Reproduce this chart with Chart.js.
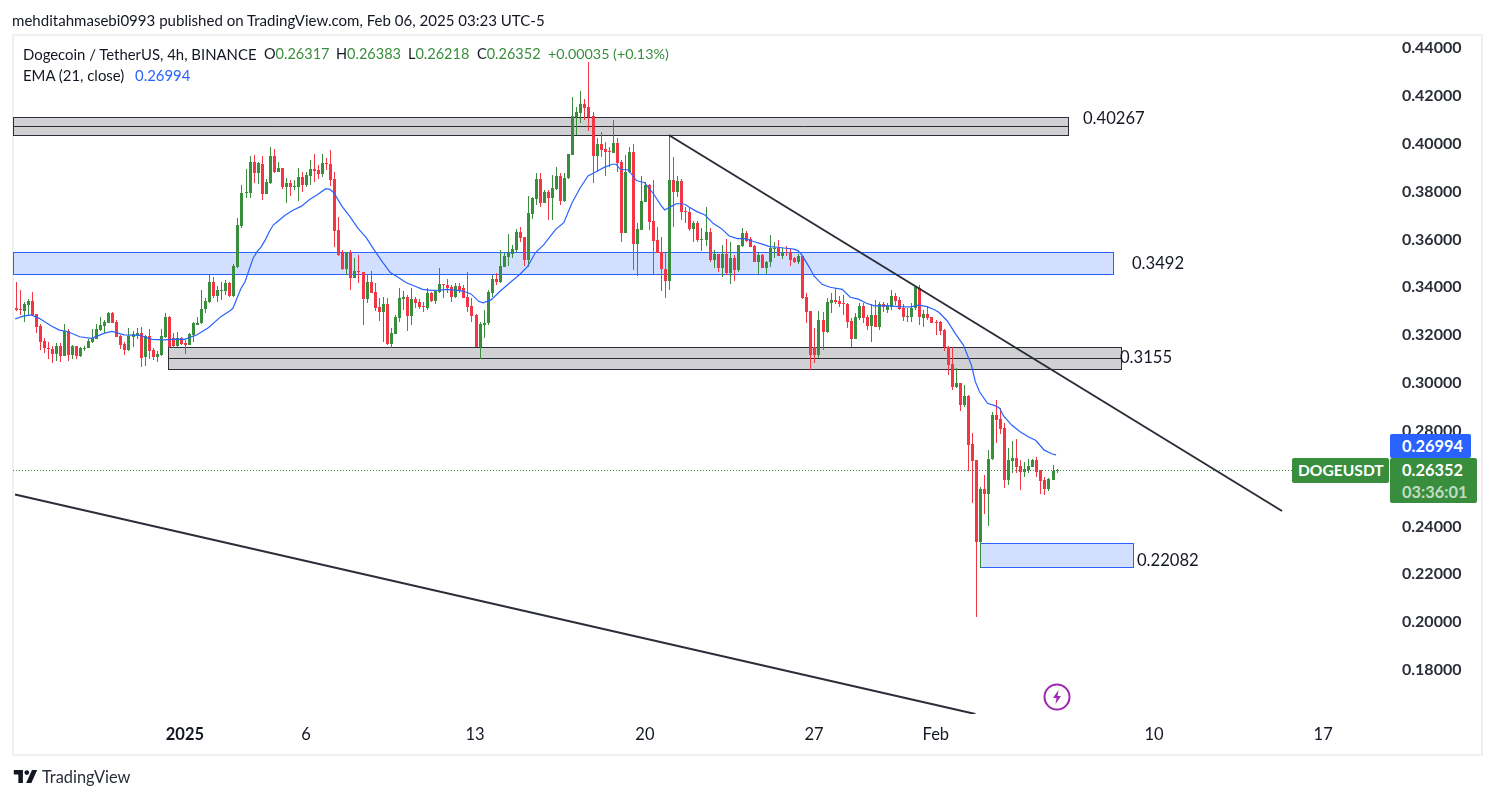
<!DOCTYPE html>
<html>
<head>
<meta charset="utf-8">
<title>DOGEUSDT</title>
<script src="https://cdn.jsdelivr.net/npm/chart.js@4/dist/chart.umd.min.js"></script>
<style>
    html, body { margin: 0; padding: 0; background: #fff; }
    body { width: 1494px; height: 798px; position: relative; overflow: hidden; font-family: Lato, sans-serif; color: #131722; }
    #frame { position: absolute; left: 12px; top: 34px; width: 1467px; height: 718px; border: 2px solid #f0f0f3; }
    canvas { position: absolute; left: 0; top: 0; }
    .txt { position: absolute; white-space: pre; line-height: 20px; font-size: 14.9px; }
    .g { color: #388e3c; }
    .note { position: absolute; white-space: pre; font-size: 16.6px; line-height: 22px; color: #131722; }
    .box { position: absolute; color: #fff; border-radius: 2px; font-weight: 700; font-size: 16.4px; box-sizing: border-box; padding-left: 12px; }
</style>
</head>
<body>
<div id="frame"></div>
<canvas id="dogeChart" width="1494" height="798"></canvas>

<div class="txt" style="left:12px;top:10px;font-size:15.05px">mehditahmasebi0993 published on TradingView.com, Feb 06, 2025 03:23 UTC-5</div>
<div class="txt" style="left:23px;top:44px">Dogecoin / TetherUS, 4h, BINANCE</div>
<div class="txt" style="left:264px;top:44px;font-size:14.5px">O<span class="g">0.26317</span></div>
<div class="txt" style="left:336px;top:44px;font-size:14.5px">H<span class="g">0.26383</span></div>
<div class="txt" style="left:408px;top:44px;font-size:14.5px">L<span class="g">0.26218</span></div>
<div class="txt" style="left:477px;top:44px;font-size:14.5px">C<span class="g">0.26352</span></div>
<div class="txt g" style="left:548px;top:44px;font-size:14.3px">+0.00035 (+0.13%)</div>
<div class="txt" style="left:23px;top:65px">EMA (21, close)</div>
<div class="txt" style="left:135px;top:65px;color:#2962ff">0.26994</div>

<div class="note" style="left:1083px;top:107px">0.40267</div>
<div class="note" style="left:1132px;top:252px">0.3492</div>
<div class="note" style="left:1120px;top:346px">0.3155</div>
<div class="note" style="left:1137px;top:549px">0.22082</div>

<div class="box" style="left:1390px;top:434px;width:81px;height:24px;line-height:24px;background:#2962ff">0.26994</div>
<div class="box" style="left:1292px;top:458px;width:97px;height:25px;line-height:25px;background:#388e3c;font-size:15.6px;padding-left:6px">DOGEUSDT</div>
<div class="box" style="left:1390px;top:458px;width:87px;height:45px;background:#388e3c;line-height:22px;padding-top:1px">0.26352<br><span style="color:rgba(255,255,255,.7)">03:36:01</span></div>

<svg style="position:absolute;left:1043px;top:683px" width="28" height="28" viewBox="0 0 28 28">
    <circle cx="14" cy="14" r="12.5" fill="#fff" stroke="#9c27b0" stroke-width="2"/>
    <path d="M15.5 7 L10 15 H13.5 L12.5 21 L18 13 H14.5 Z" fill="#9c27b0"/>
</svg>

<svg style="position:absolute;left:13px;top:770px" width="25" height="13" viewBox="0 0 36 20">
    <path d="M0 0 H14 V20 H7 V7 H0 Z M28 0 H36 L27 20 H19 Z" fill="#131722"/>
    <circle cx="20" cy="4" r="3.6" fill="#131722"/>
</svg>
<div class="txt" style="left:42px;top:767px;font-size:16.4px;color:#2a2e39">TradingView</div>

<script>
// du lieu nen 4h, doc tu hinh
const opens = [
    0.3313,0.3309,0.3300,0.3325,0.3342,0.3286,0.3238,0.3175,0.3148,0.3141,
    0.3121,0.3154,0.3112,0.3217,0.3116,0.3153,0.3112,0.3144,0.3147,0.3171,
    0.3185,0.3221,0.3238,0.3252,0.3293,0.3254,0.3196,0.3162,0.3137,0.3190,
    0.3200,0.3207,0.3107,0.3196,0.3137,0.3108,0.3116,0.3192,0.3274,0.3189,
    0.3154,0.3187,0.3167,0.3160,0.3200,0.3243,0.3249,0.3310,0.3339,0.3421,
    0.3364,0.3385,0.3385,0.3419,0.3363,0.3483,0.3656,0.3795,0.3795,0.3923,
    0.3879,0.3915,0.3790,0.3834,0.3948,0.3881,0.3898,0.3817,0.3836,0.3820,
    0.3820,0.3861,0.3827,0.3865,0.3893,0.3890,0.3873,0.3919,0.3915,0.3852,
    0.3639,0.3542,0.3476,0.3546,0.3440,0.3468,0.3464,0.3351,0.3422,0.3381,
    0.3319,0.3298,0.3330,0.3164,0.3206,0.3273,0.3351,0.3359,0.3280,0.3351,
    0.3340,0.3323,0.3313,0.3377,0.3342,0.3381,0.3413,0.3409,0.3399,0.3360,
    0.3405,0.3395,0.3360,0.3322,0.3284,0.3149,0.3244,0.3249,0.3377,0.3434,
    0.3423,0.3486,0.3528,0.3539,0.3556,0.3631,0.3609,0.3514,0.3708,0.3769,
    0.3853,0.3754,0.3800,0.3775,0.3811,0.3865,0.3761,0.3855,0.3953,0.4113,
    0.4130,0.4166,0.4154,0.4116,0.3949,0.3999,0.3978,0.3971,0.3961,0.4003,
    0.3924,0.3628,0.3881,0.3964,0.3582,0.3641,0.3758,0.3827,0.3676,0.3598,
    0.3548,0.3477,0.3424,0.3849,0.3796,0.3844,0.3717,0.3716,0.3644,0.3667,
    0.3598,0.3598,0.3632,0.3514,0.3539,0.3481,0.3539,0.3461,0.3522,0.3472,
    0.3574,0.3626,0.3600,0.3573,0.3507,0.3535,0.3482,0.3504,0.3561,0.3566,
    0.3531,0.3549,0.3549,0.3521,0.3506,0.3532,0.3358,0.3301,0.3152,0.3117,
    0.3263,0.3213,0.3334,0.3347,0.3343,0.3334,0.3330,0.3258,0.3185,0.3272,
    0.3322,0.3274,0.3240,0.3283,0.3235,0.3330,0.3305,0.3319,0.3364,0.3347,
    0.3315,0.3277,0.3276,0.3312,0.3397,0.3272,0.3288,0.3277,0.3256,0.3255,
    0.3221,0.3152,0.3078,0.2985,0.2999,0.2908,0.2946,0.2744,0.2678,0.2337,
    0.2557,0.2537,0.2680,0.2866,0.2849,0.2811,0.2595,0.2675,0.2685,0.2653,
    0.2628,0.2634,0.2650,0.2678,0.2634,0.2595,0.2557,0.2595,0.26317
];
const closes = [
    0.3305,0.3305,0.3330,0.3342,0.3284,0.3233,0.3172,0.3144,0.3143,0.3121,
    0.3153,0.3112,0.3218,0.3116,0.3153,0.3112,0.3147,0.3148,0.3175,0.3189,
    0.3225,0.3242,0.3256,0.3293,0.3250,0.3192,0.3158,0.3137,0.3196,0.3204,
    0.3207,0.3105,0.3197,0.3135,0.3107,0.3121,0.3196,0.3274,0.3151,0.3154,
    0.3186,0.3164,0.3158,0.3203,0.3249,0.3249,0.3311,0.3342,0.3420,0.3363,
    0.3388,0.3388,0.3419,0.3363,0.3490,0.3660,0.3794,0.3798,0.3923,0.3879,
    0.3918,0.3790,0.3841,0.3948,0.3881,0.3898,0.3817,0.3834,0.3819,0.3823,
    0.3861,0.3827,0.3869,0.3894,0.3887,0.3873,0.3919,0.3915,0.3848,0.3635,
    0.3536,0.3476,0.3546,0.3440,0.3468,0.3462,0.3351,0.3422,0.3377,0.3315,
    0.3298,0.3330,0.3163,0.3207,0.3276,0.3356,0.3359,0.3280,0.3351,0.3334,
    0.3317,0.3317,0.3377,0.3342,0.3384,0.3413,0.3409,0.3397,0.3360,0.3405,
    0.3388,0.3356,0.3319,0.3281,0.3149,0.3246,0.3252,0.3380,0.3434,0.3420,
    0.3489,0.3531,0.3545,0.3559,0.3631,0.3607,0.3514,0.3709,0.3773,0.3853,
    0.3754,0.3798,0.3775,0.3815,0.3865,0.3762,0.3857,0.3957,0.4116,0.4133,
    0.4166,0.4149,0.4113,0.3949,0.3999,0.3974,0.3965,0.3967,0.4003,0.3921,
    0.3628,0.3883,0.3964,0.3582,0.3644,0.3761,0.3827,0.3673,0.3595,0.3545,
    0.3475,0.3424,0.3849,0.3796,0.3844,0.3716,0.3715,0.3644,0.3667,0.3598,
    0.3602,0.3632,0.3514,0.3539,0.3481,0.3539,0.3461,0.3522,0.3470,0.3577,
    0.3626,0.3595,0.3570,0.3507,0.3535,0.3482,0.3507,0.3563,0.3564,0.3532,
    0.3548,0.3546,0.3514,0.3506,0.3532,0.3357,0.3298,0.3117,0.3117,0.3263,
    0.3213,0.3337,0.3347,0.3337,0.3330,0.3332,0.3255,0.3185,0.3274,0.3323,
    0.3272,0.3240,0.3283,0.3235,0.3330,0.3319,0.3323,0.3364,0.3343,0.3309,
    0.3277,0.3281,0.3315,0.3400,0.3277,0.3288,0.3270,0.3252,0.3252,0.3219,
    0.3149,0.3075,0.2985,0.2999,0.2908,0.2946,0.2741,0.2675,0.2337,0.2557,
    0.2536,0.2682,0.2866,0.2845,0.2808,0.2595,0.2678,0.2688,0.2650,0.2629,
    0.2641,0.2653,0.2678,0.2629,0.2592,0.2557,0.2599,0.2632,0.26352
];
const highs = [
    0.3423,0.3388,0.3339,0.3349,0.3381,0.3288,0.3246,0.3186,0.3172,0.3155,
    0.3165,0.3165,0.3246,0.3224,0.3157,0.3153,0.3151,0.3155,0.3182,0.3224,
    0.3246,0.3277,0.3265,0.3295,0.3298,0.3263,0.3199,0.3172,0.3228,0.3218,
    0.3228,0.3232,0.3200,0.3224,0.3148,0.3135,0.3224,0.3291,0.3279,0.3207,
    0.3213,0.3193,0.3179,0.3207,0.3256,0.3274,0.3388,0.3357,0.3454,0.3444,
    0.3405,0.3423,0.3430,0.3423,0.3497,0.3688,0.3827,0.3893,0.3948,0.3953,
    0.3922,0.3948,0.3851,0.3985,0.3978,0.3923,0.3898,0.3855,0.3848,0.3848,
    0.3898,0.3883,0.3883,0.3932,0.3957,0.3911,0.3957,0.3939,0.3973,0.3881,
    0.3692,0.3556,0.3549,0.3556,0.3521,0.3535,0.3464,0.3451,0.3469,0.3419,
    0.3353,0.3358,0.3353,0.3228,0.3284,0.3395,0.3384,0.3367,0.3395,0.3358,
    0.3349,0.3340,0.3395,0.3381,0.3388,0.3479,0.3413,0.3433,0.3409,0.3419,
    0.3416,0.3409,0.3465,0.3353,0.3287,0.3256,0.3305,0.3388,0.3451,0.3458,
    0.3556,0.3542,0.3623,0.3577,0.3642,0.3651,0.3612,0.3782,0.3779,0.3879,
    0.3876,0.3807,0.3807,0.3869,0.3904,0.3879,0.3876,0.3957,0.4197,0.4155,
    0.4220,0.4186,0.4340,0.4131,0.4023,0.4050,0.4009,0.3988,0.4099,0.4023,
    0.3932,0.3953,0.3985,0.3999,0.3667,0.3865,0.3841,0.3832,0.3849,0.3653,
    0.3609,0.3549,0.4037,0.3946,0.3865,0.3851,0.3737,0.3734,0.3677,0.3678,
    0.3646,0.3734,0.3646,0.3556,0.3539,0.3577,0.3600,0.3591,0.3535,0.3577,
    0.3646,0.3635,0.3609,0.3577,0.3542,0.3539,0.3511,0.3619,0.3587,0.3598,
    0.3563,0.3573,0.3563,0.3528,0.3539,0.3535,0.3375,0.3301,0.3228,0.3302,
    0.3298,0.3354,0.3375,0.3396,0.3364,0.3368,0.3333,0.3270,0.3291,0.3333,
    0.3333,0.3284,0.3329,0.3347,0.3340,0.3340,0.3333,0.3389,0.3375,0.3361,
    0.3329,0.3312,0.3333,0.3405,0.3410,0.3305,0.3322,0.3277,0.3263,0.3258,
    0.3224,0.3155,0.3149,0.3061,0.3001,0.2992,0.2950,0.2790,0.2678,0.2567,
    0.2615,0.2720,0.2880,0.2929,0.2894,0.2831,0.2727,0.2758,0.2765,0.2678,
    0.2671,0.2681,0.2682,0.2692,0.2636,0.2606,0.2601,0.2657,0.26383
];
const lows = [
    0.3302,0.3284,0.3256,0.3284,0.3281,0.3210,0.3137,0.3126,0.3102,0.3084,
    0.3093,0.3089,0.3112,0.3093,0.3098,0.3101,0.3109,0.3133,0.3144,0.3165,
    0.3182,0.3218,0.3207,0.3249,0.3249,0.3190,0.3140,0.3116,0.3133,0.3151,
    0.3182,0.3068,0.3070,0.3098,0.3096,0.3089,0.3112,0.3186,0.3148,0.3148,
    0.3151,0.3157,0.3121,0.3157,0.3172,0.3242,0.3246,0.3293,0.3335,0.3357,
    0.3339,0.3346,0.3367,0.3360,0.3360,0.3479,0.3649,0.3774,0.3771,0.3834,
    0.3831,0.3764,0.3790,0.3831,0.3879,0.3881,0.3810,0.3753,0.3781,0.3806,
    0.3762,0.3799,0.3817,0.3827,0.3841,0.3852,0.3859,0.3890,0.3824,0.3567,
    0.3530,0.3472,0.3451,0.3388,0.3437,0.3419,0.3242,0.3333,0.3374,0.3301,
    0.3260,0.3172,0.3158,0.3145,0.3204,0.3256,0.3305,0.3218,0.3242,0.3312,
    0.3308,0.3298,0.3305,0.3340,0.3330,0.3377,0.3353,0.3374,0.3340,0.3356,
    0.3374,0.3353,0.3298,0.3256,0.3149,0.3099,0.3186,0.3242,0.3360,0.3409,
    0.3416,0.3486,0.3489,0.3521,0.3549,0.3587,0.3489,0.3486,0.3684,0.3744,
    0.3737,0.3751,0.3679,0.3681,0.3807,0.3743,0.3758,0.3851,0.3953,0.4037,
    0.4088,0.4099,0.4051,0.3837,0.3883,0.3943,0.3865,0.3904,0.3960,0.3883,
    0.3591,0.3628,0.3876,0.3470,0.3447,0.3640,0.3758,0.3640,0.3456,0.3542,
    0.3386,0.3355,0.3389,0.3653,0.3779,0.3681,0.3667,0.3633,0.3591,0.3591,
    0.3553,0.3573,0.3507,0.3482,0.3464,0.3444,0.3451,0.3414,0.3428,0.3465,
    0.3570,0.3591,0.3567,0.3504,0.3456,0.3479,0.3456,0.3486,0.3524,0.3531,
    0.3520,0.3532,0.3489,0.3500,0.3497,0.3350,0.3249,0.3052,0.3082,0.3103,
    0.3138,0.3210,0.3294,0.3330,0.3319,0.3284,0.3228,0.3149,0.3183,0.3263,
    0.3249,0.3222,0.3169,0.3233,0.3222,0.3298,0.3294,0.3305,0.3326,0.3305,
    0.3259,0.3256,0.3256,0.3305,0.3242,0.3235,0.3263,0.3249,0.3201,0.3201,
    0.3135,0.3033,0.2971,0.2978,0.2884,0.2901,0.2632,0.2500,0.2021,0.2225,
    0.2452,0.2402,0.2678,0.2748,0.2787,0.2562,0.2574,0.2622,0.2622,0.2553,
    0.2608,0.2622,0.2648,0.2608,0.2536,0.2532,0.2550,0.2595,0.26218
];

// EMA 21 doc theo tung diem tren hinh
const emaIndex = [0,2,4,6,9,11,13,16,19,22,24,27,31,34,37,40,42,45,48,51,53,54,55,56,57,58,59,60,61,62,63,64,65,67,69,71,73,75,77,78,79,81,83,85,87,89,91,93,95,97,99,101,103,105,107,109,111,113,115,116,118,120,123,125,127,129,131,134,136,138,140,142,144,146,148,149,150,152,154,156,158,160,161,163,164,166,167,169,171,173,175,177,179,181,183,185,187,189,191,193,194,195,196,197,198,200,202,205,207,209,211,213,216,219,222,224,226,228,229,231,233,235,237,238,239,241,243,244,245,247,249,251,253,255,257,258];
const emaValues = [0.3267,0.3279,0.3284,0.3270,0.3238,0.3221,0.3215,0.3193,0.3186,0.3207,0.3215,0.3201,0.3199,0.3182,0.3180,0.3183,0.3182,0.3200,0.3232,0.3277,0.3298,0.3312,0.3354,0.3395,0.3423,0.3472,0.3521,0.3549,0.3569,0.3597,0.3632,0.3660,0.3674,0.3702,0.3723,0.3739,0.3767,0.3788,0.3812,0.3809,0.3795,0.3739,0.3695,0.3646,0.3608,0.3556,0.3507,0.3461,0.3441,0.3419,0.3405,0.3391,0.3387,0.3388,0.3391,0.3388,0.3384,0.3372,0.3340,0.3335,0.3347,0.3380,0.3424,0.3452,0.3486,0.3545,0.3577,0.3642,0.3670,0.3751,0.3814,0.3865,0.3883,0.3901,0.3914,0.3914,0.3893,0.3890,0.3846,0.3837,0.3796,0.3744,0.3723,0.3741,0.3750,0.3747,0.3735,0.3716,0.3702,0.3667,0.3646,0.3614,0.3603,0.3603,0.3591,0.3581,0.3570,0.3567,0.3563,0.3559,0.3553,0.3535,0.3507,0.3479,0.3447,0.3412,0.3400,0.3391,0.3358,0.3350,0.3333,0.3322,0.3323,0.3319,0.3318,0.3325,0.3319,0.3305,0.3294,0.3260,0.3207,0.3159,0.3075,0.3005,0.2964,0.2915,0.2904,0.2894,0.2862,0.2824,0.2797,0.2776,0.2759,0.2720,0.2703,0.26994];

// duong xu huong va vung gia
const trendA = { from: 162, to: 314, fromPrice: 0.40363, toPrice: 0.24646 };
const trendB = { from: 0, to: 238, fromPrice: 0.2534, toPrice: 0.1616 };
const zones = [
    { from: -0.5, to: 260.96, top: 0.41128, mid: 0.40731, bottom: 0.40351, fill: '#d1d1d4', line: '#2a2e39' },
    { from: 37.9, to: 274.1, top: 0.31489, mid: 0.31029, bottom: 0.30569, fill: '#d1d1d4', line: '#2a2e39' },
    { from: -0.5, to: 272.1, top: 0.35452, bottom: 0.34532, fill: '#d2dffe', line: '#2962ff' },
    { from: 239.15, to: 277.07, top: 0.23296, bottom: 0.22293, fill: '#d2dffe', line: '#2962ff' }
];
const lastPrice = 0.26352;

const priceTicks = [0.44,0.42,0.40,0.38,0.36,0.34,0.32,0.30,0.28,0.26,0.24,0.22,0.20,0.18];
const dayTickIndex = [42.1,72.1,114,156.1,198,228.2,282.3,324.2];
const dayTickLabels = ['2025','6','13','20','27','Feb','10','17'];

const slots = Array.from({ length: 342 }, (_, i) => String(i));
const candleColors = closes.map((c, i) => c >= opens[i] ? '#388e3c' : '#f23645');

// ve vung gia va duong gia cuoi duoi nen
const zonePlugin = {
    id: 'zonePlugin',
    beforeDatasetsDraw(chart) {
        const { ctx, chartArea, scales: { x, y } } = chart;
        ctx.save();
        ctx.beginPath();
        ctx.rect(chartArea.left, chartArea.top, chartArea.width, chartArea.height);
        ctx.clip();
        ctx.lineWidth = 1;
        zones.forEach(z => {
            const l = Math.round(x.getPixelForValue(z.from)) + 0.5;
            const r = Math.round(x.getPixelForValue(z.to)) + 0.5;
            const t = Math.round(y.getPixelForValue(z.top)) + 0.5;
            const b = Math.round(y.getPixelForValue(z.bottom)) + 0.5;
            ctx.fillStyle = z.fill;
            ctx.fillRect(l, t, r - l, b - t);
            ctx.strokeStyle = z.line;
            ctx.strokeRect(l, t, r - l, b - t);
            if (z.mid) {
                const m = Math.round(y.getPixelForValue(z.mid)) + 0.5;
                ctx.beginPath();
                ctx.moveTo(l, m);
                ctx.lineTo(r, m);
                ctx.stroke();
            }
        });
        const py = Math.round(y.getPixelForValue(lastPrice)) + 0.5;
        ctx.strokeStyle = '#388e3c';
        ctx.setLineDash([1, 2]);
        ctx.beginPath();
        ctx.moveTo(chartArea.left, py);
        ctx.lineTo(chartArea.right, py);
        ctx.stroke();
        ctx.restore();
    }
};

// canh nen vao luoi pixel cho net
const snapPlugin = {
    id: 'snapPlugin',
    beforeDatasetsDraw(chart) {
        chart.data.datasets.forEach((ds, k) => {
            if (ds.type !== 'bar') return;
            chart.getDatasetMeta(k).data.forEach(el => {
                el.x = Math.ceil(el.x) + 0.5;
                const top = Math.round(Math.min(el.y, el.base));
                let bottom = Math.round(Math.max(el.y, el.base));
                if (bottom <= top) bottom = top + 1;
                el.y = top;
                el.base = bottom;
                el.height = bottom - top;
            });
        });
    }
};

new Chart(document.getElementById('dogeChart').getContext('2d'), {
    type: 'bar',
    data: {
        labels: slots,
        datasets: [
            {
                type: 'line',
                label: 'Trend A',
                data: [{ x: String(trendA.from), y: trendA.fromPrice }, { x: String(trendA.to), y: trendA.toPrice }],
                borderColor: '#2a2e39',
                borderWidth: 2,
                pointRadius: 0,
                order: 0
            },
            {
                type: 'line',
                label: 'Trend B',
                data: [{ x: String(trendB.from), y: trendB.fromPrice }, { x: String(trendB.to), y: trendB.toPrice }],
                borderColor: '#2a2e39',
                borderWidth: 2,
                pointRadius: 0,
                order: 0
            },
            {
                type: 'line',
                label: 'EMA (21, close)',
                data: emaIndex.map((n, i) => ({ x: String(n), y: emaValues[i] })),
                borderColor: '#2962ff',
                borderWidth: 1.2,
                pointRadius: 0,
                order: 1
            },
            {
                type: 'bar',
                label: 'Body',
                data: opens.map((o, i) => [o, closes[i]]),
                backgroundColor: candleColors,
                barThickness: 3,
                inflateAmount: 0,
                grouped: false,
                order: 2
            },
            {
                type: 'bar',
                label: 'Wick',
                data: lows.map((l, i) => [l, highs[i]]),
                backgroundColor: candleColors,
                barThickness: 1,
                inflateAmount: 0,
                grouped: false,
                order: 3
            }
        ]
    },
    options: {
        responsive: false,
        animation: false,
        events: [],
        layout: { padding: { left: 13, top: 35, right: 0, bottom: 0 } },
        plugins: { legend: { display: false }, tooltip: { enabled: false } },
        scales: {
            x: {
                type: 'category',
                grid: { display: false },
                border: { display: false },
                afterBuildTicks(axis) {
                    axis.ticks = dayTickIndex.map(v => ({ value: v }));
                },
                afterFit(axis) {
                    axis.height = 84;
                },
                ticks: {
                    autoSkip: false,
                    maxRotation: 0,
                    padding: 3,
                    color: '#131722',
                    font: ctx => ({
                        family: 'Lato',
                        size: 16.5,
                        weight: ctx.tick && ctx.tick.value === dayTickIndex[0] ? '700' : '400'
                    }),
                    callback(value) {
                        return dayTickLabels[dayTickIndex.indexOf(value)];
                    }
                }
            },
            y: {
                position: 'right',
                min: 0.16161,
                max: 0.44543,
                grid: { display: false },
                border: { display: false },
                afterBuildTicks(axis) {
                    axis.ticks = priceTicks.map(v => ({ value: v }));
                },
                afterFit(axis) {
                    axis.width = 101;
                },
                ticks: {
                    crossAlign: 'near',
                    padding: 1,
                    color: '#2a2e39',
                    font: { family: 'Lato', size: 16, weight: '700' },
                    callback(value) {
                        return value.toFixed(5);
                    }
                }
            }
        }
    },
    plugins: [zonePlugin, snapPlugin]
});
</script>
</body>
</html>
